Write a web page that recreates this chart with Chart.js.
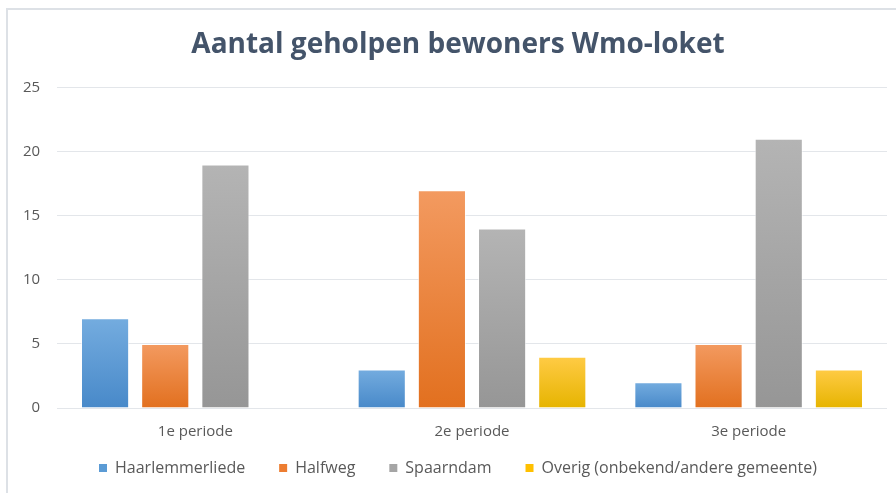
<!DOCTYPE html>
<html>
<head>
<meta charset="utf-8">
<script src="https://cdn.jsdelivr.net/npm/chart.js@4"></script>
<style>
  html, body { margin: 0; padding: 0; background: #fff; overflow: hidden; }
  #wrap { position: absolute; left: 0; top: 0; width: 887px; height: 493px; }
  #frame { position: absolute; left: 6px; top: 8px; width: 1000px; height: 600px;
           border-left: 2px solid #dde1e6; border-top: 2px solid #dde1e6; }
</style>
</head>
<body>
<div id="frame"></div>
<div id="wrap"><canvas id="chart" width="887" height="493"></canvas></div>
<script>
// --- DATA ---
const categories = ['1e periode', '2e periode', '3e periode'];
const seriesNames = ['Haarlemmerliede', 'Halfweg', 'Spaarndam', 'Overig (onbekend/andere gemeente)'];
const haarlemmerliede = [7, 3, 2];
const halfweg = [5, 17, 5];
const spaarndam = [19, 14, 21];
const overig = [0, 4, 3];
const yTicks = [0, 5, 10, 15, 20, 25];

// top / bottom colour of each bar gradient, legend swatch
const palette = [
  { top: '#74acdf', bottom: '#4889c9', swatch: '#5b9bd5' },
  { top: '#f39a60', bottom: '#e2701f', swatch: '#ed7d31' },
  { top: '#b4b4b4', bottom: '#969696', swatch: '#a5a5a5' },
  { top: '#ffcb45', bottom: '#e6b400', swatch: '#ffc000' }
];

const FONT = 'Open Sans';

function barGradient(idx) {
  return function (context) {
    const chart = context.chart;
    const yScale = chart.scales.y;
    if (!chart.chartArea || !yScale || context.raw === undefined) return palette[idx].swatch;
    const yTop = yScale.getPixelForValue(context.raw);
    const yBase = yScale.getPixelForValue(0);
    if (!isFinite(yTop) || !isFinite(yBase) || yTop === yBase) return palette[idx].swatch;
    const g = chart.ctx.createLinearGradient(0, yTop, 0, yBase);
    g.addColorStop(0, palette[idx].top);
    g.addColorStop(1, palette[idx].bottom);
    return g;
  };
}

const allSeries = [haarlemmerliede, halfweg, spaarndam, overig];
const datasets = allSeries.map((values, i) => ({
  label: seriesNames[i],
  data: values,
  backgroundColor: barGradient(i),
  borderColor: 'rgba(255,255,255,0.6)',
  borderWidth: 1,
  barPercentage: 0.8,
  categoryPercentage: 0.87
}));

const ctx = document.getElementById('chart').getContext('2d');
const chart = new Chart(ctx, {
  type: 'bar',
  data: { labels: categories, datasets: datasets },
  options: {
    responsive: false,
    animation: false,
    layout: { padding: { left: 29, right: 0, top: 21, bottom: 7 } },
    plugins: {
      title: {
        display: true,
        text: 'Aantal geholpen bewoners Wmo-loket',
        color: '#44546a',
        font: { family: FONT, size: 28, weight: 'bold' },
        padding: { top: 7, bottom: 26 }
      },
      legend: {
        position: 'bottom',
        labels: {
          color: '#595959',
          font: { family: FONT, size: 16 },
          boxWidth: 8,
          boxHeight: 8,
          padding: 34,
          generateLabels: (c) => c.data.datasets.map((ds, i) => ({
            text: ds.label,
            fillStyle: palette[i].swatch,
            strokeStyle: palette[i].swatch,
            lineWidth: 0,
            datasetIndex: i,
            fontColor: '#595959'
          }))
        }
      },
      tooltip: { enabled: false }
    },
    scales: {
      x: {
        grid: { display: false },
        border: { display: false },
        // mirrored + negative padding: labels below the axis without label clipping
        ticks: { color: '#595959', font: { family: FONT, size: 15 }, mirror: true, padding: -33 },
        afterFit: (axis) => { axis.height = 18; }
      },
      y: {
        min: 0,
        max: 25,
        afterBuildTicks: (axis) => { axis.ticks = yTicks.map(v => ({ value: v })); },
        afterFit: (axis) => { axis.width = 28; },
        grid: { color: '#e3e6ea', lineWidth: 1, drawTicks: false },
        border: { display: false },
        ticks: { color: '#595959', font: { family: FONT, size: 15 }, mirror: true, crossAlign: 'far', padding: -34 }
      }
    }
  }
});
</script>
</body>
</html>
